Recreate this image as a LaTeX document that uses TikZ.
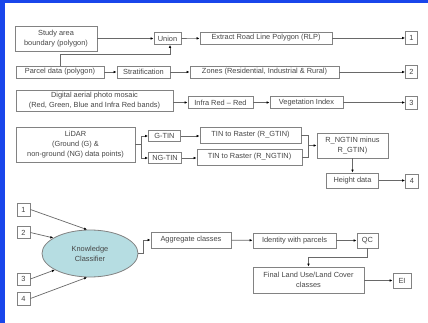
\documentclass[tikz,border=0pt]{standalone}
\usepackage{fontspec}
\setmainfont{Liberation Sans}
\usetikzlibrary{arrows.meta,shapes.geometric}
\definecolor{frameblue}{RGB}{25,70,235}
\definecolor{boxline}{RGB}{130,130,130}
\definecolor{txt}{RGB}{70,70,70}
\definecolor{wire}{RGB}{105,105,105}
\definecolor{ellfill}{RGB}{182,221,226}
\tikzset{
  box/.style={draw=boxline, line width=0.8pt, fill=white, inner sep=0pt, align=center,
    text=txt, font=\fontsize{7.4}{10}\selectfont, minimum width=#1},
  box/.default=20pt,
  arr/.style={draw=wire, line width=0.7pt, -{Latex[length=3pt,width=2.6pt,color=black]}},
  ln/.style={draw=wire, line width=0.7pt},
}
\begin{document}
\begin{tikzpicture}[x=1pt,y=-1pt]
\useasboundingbox (0,0) rectangle (428,323);
\fill[white] (0,0) rectangle (428,323);
\fill[frameblue] (0,0) rectangle (428,3);
\fill[frameblue] (0,0) rectangle (5,323);

% row 1
\node[box=82pt, minimum height=25pt] (study) at (56,38.5) {Study area\\boundary (polygon)};
\node[box=27pt, minimum height=12pt] (union) at (167.5,38.5) {Union};
\node[box=132pt, minimum height=12pt] (rlp) at (266,38) {Extract Road Line Polygon (RLP)};
\node[box=12pt, minimum height=13pt] (o1) at (411.5,37.5) {1};
% row 2
\node[box=88pt, minimum height=12pt] (parcel) at (60,72) {Parcel data (polygon)};
\node[box=53pt, minimum height=12pt] (strat) at (143.5,72) {Stratification};
\node[box=149pt, minimum height=12pt] (zones) at (264.5,72) {Zones (Residential, Industrial \& Rural)};
\node[box=12pt, minimum height=13pt] (o2) at (411.5,72) {2};
% row 3
\node[box=157pt, minimum height=21pt] (photo) at (94.5,100.5) {Digital aerial photo mosaic\\(Red, Green, Blue and Infra Red bands)};
\node[box=65pt, minimum height=12pt] (infra) at (220.5,102.5) {Infra Red -- Red};
\node[box=73pt, minimum height=12pt] (veg) at (306.5,102.5) {Vegetation Index};
\node[box=12pt, minimum height=13pt] (o3) at (411.5,102.5) {3};
% LiDAR
\node[box=119pt, minimum height=35pt] (lidar) at (75.5,144.5) {LiDAR\\(Ground (G) \&\\non-ground (NG) data points)};
\node[box=32pt, minimum height=11pt] (gtin) at (164.5,136) {G-TIN};
\node[box=33pt, minimum height=11pt] (ngtin) at (165,158) {NG-TIN};
\node[box=101pt, minimum height=16pt] (tr1) at (250.5,135) {TIN to Raster (R\_GTIN)};
\node[box=105pt, minimum height=16pt] (tr2) at (249.5,157) {TIN to Raster (R\_NGTIN)};
\node[box=71pt, minimum height=25pt] (minus) at (352.5,145.5) {R\_NGTIN minus\\R\_GTIN)};
\node[box=52pt, minimum height=15pt] (height) at (352.5,180.5) {Height data};
\node[box=13pt, minimum height=14pt] (o4) at (412,181) {4};
% classifier
\node[box=13pt, minimum height=13pt] (k1) at (23.5,209.5) {1};
\node[box=13pt, minimum height=12pt] (k2) at (23.5,232.5) {2};
\node[box=13pt, minimum height=12pt] (k3) at (23.5,279) {3};
\node[box=13pt, minimum height=13pt] (k4) at (23.5,298.5) {4};
\node[ellipse, draw=boxline, line width=0.8pt, fill=ellfill, minimum width=96pt, minimum height=47pt,
  inner sep=0pt, align=center, text=txt, font=\fontsize{7.4}{10}\selectfont] (kc) at (90,253.5) {Knowledge\\Classifier};
\node[box=80pt, minimum height=16pt] (agg) at (191,240) {Aggregate classes};
\node[box=83pt, minimum height=15pt] (ident) at (294.5,240.5) {Identity with parcels};
\node[box=21pt, minimum height=15pt] (qc) at (367.5,240.5) {QC};
\node[box=111pt, minimum height=26pt] (final) at (308.5,280) {Final Land Use/Land Cover\\classes};
\node[box=18pt, minimum height=15pt] (ei) at (402,280.5) {EI};

% connectors row 1-2
\draw[arr] (study.east |- union.west) -- (union.west);
\coordinate (uj) at (170,54);
\draw[arr] (parcel.north) |- (uj) -- (uj |- union.south);
\draw[arr] (union) -- (rlp);
\draw[arr] (rlp.east) -- (o1.west |- rlp.east);
\draw[arr] (parcel) -- (strat);
\draw[arr] (strat) -- (zones);
\draw[arr] (zones) -- (o2);
% row 3
\draw[arr] (photo.east |- infra.west) -- (infra.west);
\draw[arr] (infra) -- (veg);
\draw[arr] (veg) -- (o3);
% LiDAR
\coordinate (lj) at (141,144.5);
\draw[ln] (lidar.east) -- (lj);
\draw[arr] (lj) |- (gtin.west);
\draw[arr] (lj) |- (ngtin.west);
\draw[arr] (gtin.east) -- (gtin.east -| tr1.west);
\draw[arr] (ngtin.east) -- (ngtin.east -| tr2.west);
\coordinate (mj) at (308,145.5);
\draw[ln] (tr1.east) -| (mj);
\draw[ln] (tr2.east) -| (mj);
\draw[arr] (mj) -- (minus.west);
\draw[arr] (minus.south) -- (height.north);
\draw[arr] (height.east) -- (height.east -| o4.west);
% classifier
\draw[arr] (k1.east) -- (kc.97);
\draw[arr] (k2.east) -- (kc.157);
\draw[arr] (k3.east) -- (kc.205);
\draw[arr] (k4.east) -- (kc.263);
\draw[arr] (kc.east) -- ++(5,0) |- (agg.west);
\draw[arr] (agg) -- (ident);
\draw[arr] (ident) -- (qc);
\draw[arr] (qc.south) -- ++(0,9) -| (final.north);
\draw[arr] (final.east |- ei.west) -- (ei.west);
\end{tikzpicture}
\end{document}
